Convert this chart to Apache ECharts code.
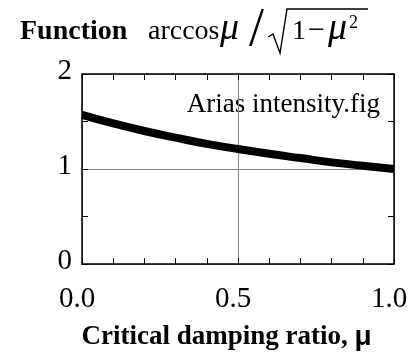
<!DOCTYPE html>
<html>
<head>
<meta charset="utf-8">
<script src="https://cdn.jsdelivr.net/npm/echarts@6/dist/echarts.min.js"></script>
<style>
  html, body { margin: 0; padding: 0; background: #fff; }
  #main { width: 419px; height: 356px; }
</style>
</head>
<body>
<div id="main"></div>
<script>
// critical damping ratio mu and the function value
const mu = [0.0, 0.1, 0.2, 0.3, 0.4, 0.5, 0.6, 0.7, 0.8, 0.9, 1.0];
const fval = [1.57, 1.48, 1.40, 1.33, 1.265, 1.21, 1.16, 1.115, 1.07, 1.035, 1.0];
const xTickLabels = ['0.0', '0.5', '1.0'];
const yTickLabels = ['0', '1', '2'];

const serif = '"Liberation Serif", "DejaVu Serif", serif';
let myChart = echarts.init(document.getElementById('main'));

function xLabel(v) {
  let i = Math.round(v * 2);
  return Math.abs(v * 2 - i) < 1e-6 ? xTickLabels[i] : '';
}
function yLabel(v) {
  let i = Math.round(v);
  return Math.abs(v - i) < 1e-6 ? yTickLabels[i] : '';
}

const axisLine = { show: true, onZero: false, lineStyle: { color: '#000', width: 1.5 } };
const tick = { show: true, inside: true, length: 6, lineStyle: { color: '#000', width: 1 } };
const minor = { show: true, splitNumber: 5, length: 6, lineStyle: { color: '#000', width: 1 } };
const grid = { show: true, lineStyle: { color: '#888', width: 1 } };

function txt(x, y, s, font) {
  return { type: 'text', x: x, y: y, style: { text: s, font: font, fill: '#000', verticalAlign: 'top' } };
}

var option = {
  animation: false,
  grid: { left: 82, right: 25, top: 74, bottom: 85 },
  xAxis: [{
    type: 'value', min: 0, max: 1, interval: 0.5, position: 'bottom',
    axisLine: axisLine, axisTick: tick, minorTick: minor, splitLine: grid,
    axisLabel: { formatter: xLabel, fontFamily: serif, fontSize: 29, color: '#000', margin: 21, padding: [0, 10, 0, 0] },
    name: '{b|Critical damping ratio,}  {m|μ}', nameLocation: 'middle', nameGap: 59,
    nameTextStyle: {
      padding: [0, 23, 0, 0],
      rich: {
        b: { fontFamily: serif, fontWeight: 'bold', fontSize: 27, color: '#000' },
        m: { fontFamily: '"Liberation Sans", sans-serif', fontWeight: 'bold', fontSize: 28, color: '#000' }
      }
    }
  }, {
    type: 'value', min: 0, max: 1, interval: 0.5, position: 'top',
    axisLine: axisLine, axisTick: tick, minorTick: minor, splitLine: { show: false },
    axisLabel: { show: false }
  }],
  yAxis: [{
    type: 'value', min: 0, max: 2, interval: 1, position: 'left',
    axisLine: axisLine, axisTick: tick,
    minorTick: Object.assign({}, minor, { splitNumber: 2 }), splitLine: grid,
    axisLabel: { formatter: yLabel, fontFamily: serif, fontSize: 29, color: '#000', margin: 10,
      verticalAlign: 'bottom', lineHeight: 6 }
  }, {
    type: 'value', min: 0, max: 2, interval: 1, position: 'right',
    axisLine: axisLine, axisTick: tick,
    minorTick: Object.assign({}, minor, { splitNumber: 2 }), splitLine: { show: false },
    axisLabel: { show: false }
  }],
  series: [{
    type: 'line',
    data: mu.map((m, i) => [m, fval[i]]),
    smooth: true, symbol: 'none',
    lineStyle: { color: '#000', width: 8 }
  }],
  graphic: [
    txt(20, 18, 'Function', 'bold 28px ' + serif),
    txt(148, 18, 'arccos', '28px ' + serif),
    txt(220, 10, 'μ', 'italic 38px ' + serif),
    txt(249, 4, '/', '54px ' + serif),
    { type: 'polyline', shape: { points: [[268, 37], [273, 34], [280, 53], [287, 9], [368, 9]] },
      style: { stroke: '#000', fill: null, lineWidth: 1.4 } },
    txt(292, 18, '1', '28px ' + serif),
    txt(308, 16, '−', '30px ' + serif),
    txt(328, 10, 'μ', 'italic 38px ' + serif),
    txt(349, 14, '2', '18px ' + serif),
    { type: 'text', right: 39, top: 91,
      style: { text: 'Arias intensity.fig', font: '27px ' + serif, fill: '#000' } }
  ]
};
myChart.setOption(option);
</script>
</body>
</html>
